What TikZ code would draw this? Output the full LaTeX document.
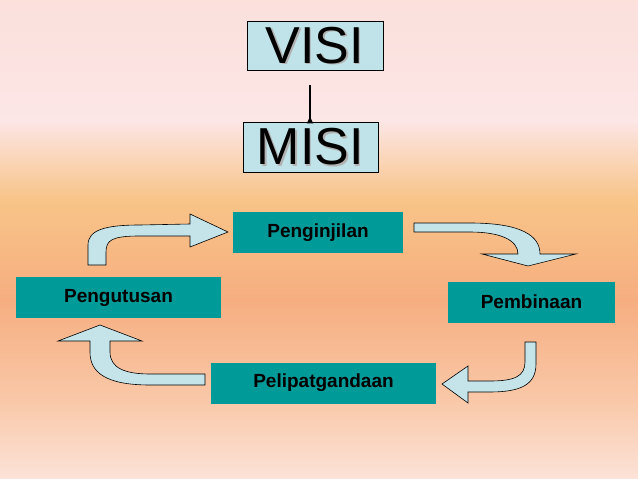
\documentclass[tikz,border=0pt]{standalone}
\usepackage{fontspec}
\setmainfont{Liberation Sans}
\usetikzlibrary{arrows.meta}
\begin{document}
\begin{tikzpicture}[x=1pt,y=-1pt,
 gbox/.style={text=black,font=\bfseries\fontsize{19}{22}\selectfont,inner sep=0pt,minimum height=41pt},
 bbox/.style={fill=bluebox,draw=black,line width=0.8pt,inner sep=0pt,minimum height=48pt},
 barrow/.style={fill=arrowc,draw=black,line width=0.6pt}]
\definecolor{c1}{HTML}{FBE0DC}\definecolor{c2}{HTML}{FCE6E6}\definecolor{c3}{HTML}{F8C488}
\definecolor{c4}{HTML}{F6AE80}\definecolor{c5}{HTML}{F9C8A8}\definecolor{c6}{HTML}{FCE2D8}
\definecolor{tealc}{HTML}{009A98}\definecolor{bluebox}{HTML}{BFE3E8}\definecolor{arrowc}{HTML}{C4E4EA}
\tikzset{gbox/.append style={fill=tealc}}
\useasboundingbox (0,0) rectangle (638,479);
\shade[top color=c1,bottom color=c2] (0,0) rectangle (638,120);
\shade[top color=c2,bottom color=c3] (0,120) rectangle (638,200);
\shade[top color=c3,bottom color=c4] (0,200) rectangle (638,300);
\shade[top color=c4,bottom color=c5] (0,300) rectangle (638,400);
\shade[top color=c5,bottom color=c6] (0,400) rectangle (638,479);
\newcommand{\shtext}[1]{\fontsize{52}{56}\selectfont\tikz[baseline,x=1pt,y=1pt]{\node[inner sep=0pt,text=gray!60,anchor=base] at (1.5,-1.5) {#1};\node[inner sep=0pt,anchor=base] at (0,0) {#1};}}
\node[bbox,minimum width=135pt] (visi) at (315.5,46) {\shtext{VISI}};
\node[bbox,minimum width=134pt] (misi) at (311,147.5) {\shtext{MISI}};
\coordinate (a1) at (310,85);
\draw[-{Latex[length=8pt,width=7pt]},line width=1.5pt] (a1) -- (a1 |- misi.north) ++(0,-7);
\node[gbox,minimum width=170pt] (peng) at (318,232.5) {Penginjilan};
\node[gbox,minimum width=205pt] (utus) at (118.5,297.5) {Pengutusan};
\node[gbox,minimum width=167pt] (bina) at (531.5,302) {Pembinaan};
\node[gbox,minimum width=225pt] (lipat) at (323.5,383) {Pelipatgandaan};
\draw[barrow] (414,223) -- (470,223) .. controls (522,223) and (540,236) .. (540,254) -- (576,254) -- (528,266) -- (482,254) -- (518,254) .. controls (518,240) and (500,232) .. (470,232) -- (414,232) -- cycle;
\draw[barrow] (536,342) -- (536,364) .. controls (536,385) and (520,392) .. (490,392) -- (468,392) -- (468,403) -- (442,384) -- (468,366) -- (468,381) -- (490,381) .. controls (515,381) and (525,376) .. (525,362) -- (525,342) -- cycle;
\draw[barrow] (205,385) -- (150,385) .. controls (105,385) and (90,372) .. (90,352) -- (90,341) -- (58,341) -- (100,325) -- (142,341) -- (110,341) -- (110,352) .. controls (110,368) and (125,374) .. (150,374) -- (205,374) -- cycle;
\draw[barrow] (88,265) -- (88,245) .. controls (88,230) and (105,225) .. (140,225) -- (190,224) -- (190,214) -- (228,232) -- (190,247) -- (190,236) -- (140,236) .. controls (112,236) and (106,240) .. (106,252) -- (106,265) -- cycle;
\end{tikzpicture}
\end{document}
